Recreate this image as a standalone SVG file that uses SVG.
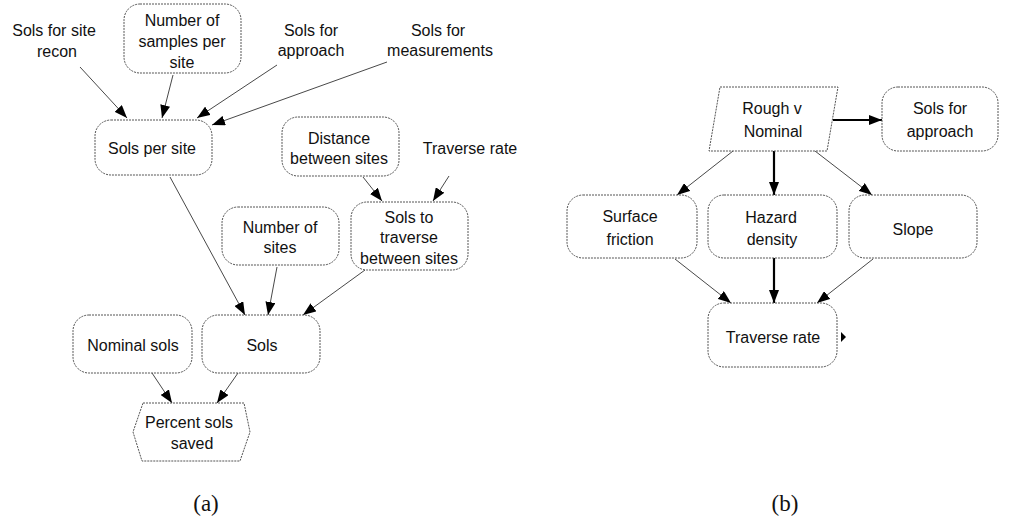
<svg xmlns="http://www.w3.org/2000/svg" width="1012" height="525" viewBox="0 0 1012 525">
  <style>
    .box { fill: #ffffff; stroke: #555; stroke-width: 1; stroke-dasharray: 2 1; }
    .lbl { font-family: "Liberation Sans", Arial, sans-serif; font-size: 16px; fill: #111; text-anchor: middle; }
    .cap { font-family: "Liberation Serif", "Times New Roman", serif; font-size: 23px; fill: #111; text-anchor: middle; }
    .edge { fill: none; stroke: #333; stroke-width: 0.9; marker-end: url(#arrow); }
    .edge.bold { stroke: #000; stroke-width: 2.2; marker-end: url(#arrowBold); }
  </style>
  <defs>
    <marker id="arrow" markerUnits="userSpaceOnUse" markerWidth="14" markerHeight="10" refX="13" refY="5" orient="auto">
      <path d="M0,0 L13,5 L0,10 z" fill="#000"/>
    </marker>
    <marker id="arrowBold" markerUnits="userSpaceOnUse" markerWidth="14" markerHeight="10" refX="13" refY="5" orient="auto">
      <path d="M0,0 L13,5 L0,10 z" fill="#000"/>
    </marker>
  </defs>
  <rect width="1012" height="525" fill="#ffffff"/>

  <!-- connectors -->
  <g id="connectors">
    <!-- (a) -->
    <line class="edge" x1="80" y1="67" x2="127" y2="118"/>
    <line class="edge" x1="173" y1="75" x2="162" y2="118"/>
    <line class="edge" x1="277" y1="65" x2="197" y2="118"/>
    <line class="edge" x1="387" y1="62" x2="212" y2="125"/>
    <line class="edge" x1="363" y1="177" x2="382" y2="201"/>
    <line class="edge" x1="449" y1="176" x2="433" y2="201"/>
    <line class="edge" x1="170" y1="177" x2="245" y2="315"/>
    <line class="edge" x1="277" y1="267" x2="268" y2="315"/>
    <line class="edge" x1="365" y1="270" x2="303" y2="315"/>
    <line class="edge" x1="152" y1="373" x2="172" y2="403"/>
    <line class="edge" x1="238" y1="373" x2="217" y2="403"/>
    <!-- (b) -->
    <line class="edge bold" x1="833" y1="120" x2="882" y2="120"/>
    <line class="edge bold" x1="774" y1="151" x2="774" y2="195"/>
    <line class="edge" x1="733" y1="151" x2="677" y2="195"/>
    <line class="edge" x1="815" y1="151" x2="872" y2="195"/>
    <line class="edge" x1="675" y1="259" x2="731" y2="303"/>
    <line class="edge bold" x1="774" y1="258" x2="774" y2="303"/>
    <line class="edge" x1="873" y1="259" x2="817" y2="303"/>
  </g>

  <!-- (a) nodes -->
  <g id="sols-site-recon">
    <text class="lbl" x="54" y="36">Sols for site</text>
    <text class="lbl" x="57" y="57">recon</text>
  </g>
  <g id="samples-per-site">
    <rect class="box" x="124" y="4" width="117" height="69" rx="16"/>
    <text class="lbl" x="182" y="26">Number of</text>
    <text class="lbl" x="182" y="47">samples per</text>
    <text class="lbl" x="182" y="68">site</text>
  </g>
  <g id="sols-approach-a">
    <text class="lbl" x="311" y="36">Sols for</text>
    <text class="lbl" x="311" y="56">approach</text>
  </g>
  <g id="sols-measurements">
    <text class="lbl" x="438" y="36">Sols for</text>
    <text class="lbl" x="440" y="56">measurements</text>
  </g>
  <g id="sols-per-site">
    <rect class="box" x="95" y="120" width="117" height="55" rx="16"/>
    <text class="lbl" x="152" y="154">Sols per site</text>
  </g>
  <g id="distance-between-sites">
    <rect class="box" x="282" y="117" width="117" height="59" rx="16"/>
    <text class="lbl" x="339" y="144">Distance</text>
    <text class="lbl" x="339" y="164">between sites</text>
  </g>
  <g id="traverse-rate-a">
    <text class="lbl" x="470" y="154">Traverse rate</text>
  </g>
  <g id="number-of-sites">
    <rect class="box" x="222" y="207" width="117" height="58" rx="16"/>
    <text class="lbl" x="280" y="233">Number of</text>
    <text class="lbl" x="280" y="253">sites</text>
  </g>
  <g id="sols-to-traverse">
    <rect class="box" x="351" y="202" width="117" height="68" rx="16"/>
    <text class="lbl" x="409" y="223">Sols to</text>
    <text class="lbl" x="409" y="243">traverse</text>
    <text class="lbl" x="409" y="264">between sites</text>
  </g>
  <g id="nominal-sols">
    <rect class="box" x="73" y="315" width="119" height="58" rx="16"/>
    <text class="lbl" x="133" y="351">Nominal sols</text>
  </g>
  <g id="sols">
    <rect class="box" x="202" y="315" width="118" height="58" rx="16"/>
    <text class="lbl" x="262" y="351">Sols</text>
  </g>
  <g id="percent-sols-saved">
    <polygon class="box" points="143,403 244,403 250,432 240,461 142,461 133,432"/>
    <text class="lbl" x="189" y="428">Percent sols</text>
    <text class="lbl" x="192" y="449">saved</text>
  </g>
  <text class="cap" x="206" y="511">(a)</text>

  <!-- (b) nodes -->
  <g id="rough-v-nominal">
    <polygon class="box" points="720,87 838,87 827,151 709,151"/>
    <text class="lbl" x="772" y="114">Rough v</text>
    <text class="lbl" x="773" y="137">Nominal</text>
  </g>
  <g id="sols-approach-b">
    <rect class="box" x="882" y="87" width="116" height="64" rx="16"/>
    <text class="lbl" x="940" y="114">Sols for</text>
    <text class="lbl" x="940" y="137">approach</text>
  </g>
  <g id="surface-friction">
    <rect class="box" x="567" y="195" width="130" height="63" rx="16"/>
    <text class="lbl" x="630" y="222">Surface</text>
    <text class="lbl" x="630" y="245">friction</text>
  </g>
  <g id="hazard-density">
    <rect class="box" x="708" y="195" width="129" height="63" rx="16"/>
    <text class="lbl" x="771" y="223">Hazard</text>
    <text class="lbl" x="772" y="245">density</text>
  </g>
  <g id="slope">
    <rect class="box" x="849" y="195" width="128" height="63" rx="16"/>
    <text class="lbl" x="913" y="235">Slope</text>
  </g>
  <g id="traverse-rate-b">
    <rect class="box" x="708" y="303" width="129" height="64" rx="16"/>
    <text class="lbl" x="773" y="343">Traverse rate</text>
    <path d="M841,332 L846,337 L841,342 z" fill="#000"/>
  </g>
  <text class="cap" x="785" y="511">(b)</text>
</svg>
